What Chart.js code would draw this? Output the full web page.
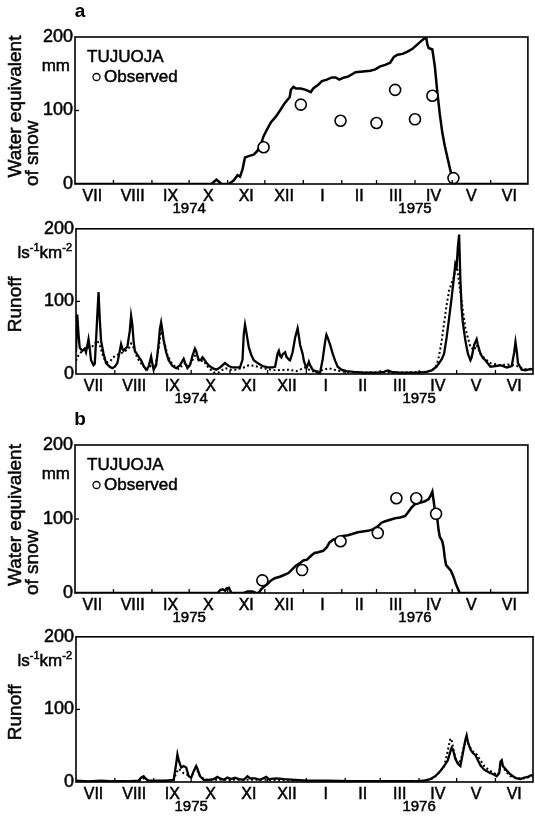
<!DOCTYPE html>
<html>
<head>
<meta charset="utf-8">
<script src="https://cdn.jsdelivr.net/npm/chart.js@4.4.1/dist/chart.umd.min.js"></script>
<style>
  html, body { margin: 0; padding: 0; background: #fff; }
  #wrap { position: relative; width: 535px; height: 818px; overflow: hidden; }
  #wrap canvas { position: absolute; left: 0; }
</style>
</head>
<body>
<div id="wrap">
  <canvas id="snowA" width="535" height="216" style="top:0px"></canvas>
  <canvas id="runoffA" width="535" height="194" style="top:216px"></canvas>
  <canvas id="snowB" width="535" height="214" style="top:410px"></canvas>
  <canvas id="runoffB" width="535" height="194" style="top:624px"></canvas>
</div>
<script>
// Sumbu waktu: hari sejak 1 Juli (tahun hidrologi Juli - Juni)
const monthLabels = ['VII', 'VIII', 'IX', 'X', 'XI', 'XII', 'I', 'II', 'III', 'IV', 'V', 'VI'];
const monthStartDays = [0, 31, 62, 92, 123, 153, 184, 215, 243, 274, 304, 335, 365];
const monthMidDays = [14, 46.5, 77, 107.5, 138, 168.5, 199.5, 229, 258.5, 289, 319.5, 350];
const yTickValues = [0, 100, 200];
const yearDays = [92, 274];
const yearLabelsA = ['1974', '1975'];
const yearLabelsB = ['1975', '1976'];

// a) 1974/75 - setara air salju (hitungan) dan pengamatan
const snowDaysA = [0, 110, 112, 114, 116, 118, 124, 128, 131, 133, 135, 137, 140, 144, 147, 150, 152, 155, 158, 162, 166, 169, 171, 173, 174, 176, 178, 182, 186, 190, 192, 196, 199, 203, 207, 210, 213, 217, 220, 224, 226, 232, 238, 242, 246, 250, 254, 257, 260, 264, 268, 272, 276, 280, 283, 284, 285, 288, 290, 292, 294, 296, 298, 300, 302, 304, 306, 365];
const snowA = [0, 0, 3, 6, 3, 0, 0, 5, 12, 10, 20, 36, 38, 40, 45, 55, 65, 75, 84, 92, 102, 110, 114, 118, 128, 132, 130, 130, 128, 125, 130, 135, 140, 142, 145, 145, 142, 145, 146, 150, 152, 153, 154, 156, 160, 162, 165, 173, 176, 177, 180, 184, 190, 196, 200, 190, 185, 183, 160, 125, 95, 70, 52, 37, 22, 8, 0, 0];
const obsDaysA = [152, 182, 214, 243, 258, 274, 288, 305];
const obsSnowA = [50, 108, 86, 83, 128, 88, 120, 8];

// a) limpasan terukur (garis) dan simulasi (titik-titik)
const runoffDaysA = [0, 1, 2, 3, 5, 7, 8, 10, 11, 12, 14, 15, 16, 17, 18, 19, 20, 22, 24, 27, 29, 31, 33, 35, 36, 37, 38, 40, 41, 43, 44, 45, 46, 47, 50, 52, 54, 56, 58, 60, 61, 62, 64, 66, 67, 68, 69, 70, 72, 74, 77, 80, 83, 86, 87, 89, 91, 93, 95, 96, 98, 100, 101, 102, 104, 106, 109, 112, 115, 119, 122, 125, 128, 131, 133, 134, 135, 136, 138, 140, 142, 145, 149, 153, 157, 159, 161, 162, 163, 164, 165, 167, 168, 170, 171, 173, 175, 177, 178, 179, 181, 182, 184, 185, 186, 187, 189, 191, 193, 195, 197, 199, 200, 201, 203, 205, 207, 209, 212, 216, 222, 230, 240, 246, 249, 252, 258, 266, 274, 280, 284, 288, 290, 292, 294, 296, 298, 300, 302, 303, 304, 305, 306, 307, 308, 309, 311, 313, 315, 316, 318, 320, 321, 323, 325, 327, 331, 335, 339, 344, 348, 350, 351, 352, 353, 356, 359, 363, 365];
const runoffA = [30, 82, 55, 36, 32, 35, 30, 48, 35, 19, 12, 14, 46, 80, 113, 75, 46, 28, 15, 10, 8, 10, 15, 32, 41, 35, 32, 36, 37, 60, 80, 68, 45, 32, 24, 19, 11, 6, 10, 24, 14, 6, 12, 42, 62, 71, 60, 46, 30, 19, 11, 8, 12, 21, 16, 8, 12, 25, 35, 31, 19, 20, 23, 21, 16, 12, 8, 6, 9, 15, 11, 9, 9, 9, 20, 55, 68, 58, 37, 26, 19, 15, 11, 9, 9, 10, 28, 32, 25, 23, 27, 30, 24, 20, 19, 30, 50, 63, 52, 40, 28, 18, 8, 12, 17, 12, 6, 4, 2, 2, 20, 45, 54, 50, 40, 28, 18, 10, 6, 4, 3, 2, 2, 3, 5, 3, 2, 2, 2, 3, 5, 10, 15, 20, 28, 50, 77, 105, 135, 152, 148, 175, 192, 130, 90, 70, 46, 28, 19, 23, 40, 48, 40, 28, 22, 19, 10, 11, 12, 9, 11, 30, 44, 32, 15, 6, 5, 7, 6];
const simDaysA = [0, 2, 5, 9, 13, 17, 19, 22, 25, 28, 31, 35, 39, 42, 44, 46, 49, 53, 57, 60, 63, 66, 68, 70, 73, 77, 82, 87, 90, 95, 99, 102, 106, 110, 114, 119, 124, 128, 134, 138, 143, 149, 159, 170, 176, 183, 187, 191, 198, 202, 208, 215, 230, 260, 280, 285, 288, 290, 292, 294, 296, 298, 300, 302, 304, 305, 306, 308, 311, 315, 318, 320, 323, 326, 331, 339, 345, 351, 357, 365];
const runoffSimA = [18, 26, 32, 36, 38, 46, 40, 22, 16, 19, 25, 28, 31, 35, 42, 36, 22, 12, 6, 12, 8, 35, 62, 48, 26, 13, 7, 15, 10, 25, 18, 18, 8, 2, 2, 8, 6, 6, 9, 12, 11, 8, 5, 6, 4, 9, 5, 3, 6, 8, 5, 3, 2, 2, 3, 6, 12, 25, 45, 70, 95, 115, 125, 135, 150, 140, 125, 100, 63, 37, 33, 40, 28, 22, 15, 12, 13, 12, 7, 6];

// b) 1975/76 - setara air salju dan pengamatan
const snowDaysB = [0, 115, 117, 119, 121, 122, 124, 126, 136, 139, 143, 146, 148, 150, 152, 155, 158, 161, 165, 168, 172, 175, 178, 181, 184, 187, 190, 193, 196, 200, 203, 205, 208, 212, 216, 220, 224, 228, 232, 236, 240, 244, 247, 250, 254, 258, 262, 266, 268, 271, 274, 278, 282, 285, 287, 288, 289, 290, 292, 293, 294, 296, 297, 298, 299, 301, 303, 305, 307, 309, 310, 365];
const snowB = [0, 0, 4, 5, 3, 6, 7, 0, 0, 2, 2, 0, 0, 5, 8, 12, 17, 20, 22, 24, 27, 32, 37, 40, 44, 45, 50, 54, 55, 57, 62, 68, 72, 74, 77, 78, 80, 82, 83, 84, 86, 90, 95, 97, 99, 101, 102, 104, 108, 115, 120, 122, 124, 127, 133, 137, 125, 112, 100, 85, 76, 70, 62, 48, 38, 34, 30, 22, 12, 4, 0, 0];
const obsDaysB = [151, 183, 214, 244, 259, 275, 291];
const obsSnowB = [17, 31, 70, 81, 128, 128, 107];

// b) limpasan terukur dan simulasi
const runoffDaysB = [0, 10, 20, 30, 40, 50, 52, 54, 56, 58, 65, 72, 78, 80, 81, 82, 84, 86, 88, 90, 92, 94, 96, 97, 99, 102, 106, 110, 113, 115, 118, 121, 124, 127, 130, 134, 137, 139, 143, 147, 152, 154, 160, 166, 175, 185, 200, 220, 250, 270, 278, 283, 287, 291, 294, 297, 299, 300, 301, 303, 305, 307, 309, 311, 312, 313, 315, 317, 319, 321, 323, 326, 330, 334, 336, 338, 339, 340, 341, 343, 346, 349, 352, 355, 358, 361, 363, 365];
const runoffB = [2, 1, 2, 1, 1, 2, 6, 8, 4, 2, 2, 2, 3, 25, 38, 30, 20, 22, 20, 8, 6, 15, 22, 18, 8, 3, 3, 4, 7, 5, 3, 6, 4, 6, 4, 3, 8, 5, 5, 3, 7, 4, 5, 4, 3, 2, 2, 1, 1, 1, 2, 4, 8, 15, 22, 30, 42, 47, 45, 32, 25, 22, 40, 58, 64, 55, 45, 40, 37, 30, 23, 17, 13, 10, 8, 12, 28, 30, 22, 18, 12, 8, 5, 4, 6, 7, 9, 9];
const simDaysB = [0, 50, 54, 58, 78, 80, 82, 84, 86, 89, 92, 95, 97, 100, 104, 120, 150, 200, 270, 280, 285, 290, 294, 296, 298, 299, 300, 302, 304, 306, 308, 310, 312, 314, 317, 320, 323, 326, 330, 334, 337, 339, 341, 343, 347, 352, 358, 365];
const runoffSimB = [1, 1, 5, 1, 2, 12, 18, 15, 12, 10, 6, 18, 15, 6, 3, 3, 3, 1, 1, 2, 5, 13, 22, 35, 52, 60, 58, 40, 28, 25, 35, 50, 58, 50, 42, 38, 30, 22, 16, 12, 10, 20, 22, 15, 8, 5, 5, 8];

const FONT = '"Liberation Sans", Arial, sans-serif';
const INK = 0.5; // tebal goresan teks, meniru cetakan hasil pindai

document.addEventListener('DOMContentLoaded', function () {
    if (typeof Chart === 'undefined') return;

    // Menggabungkan hari dan nilai menjadi titik {x, y}
    const pts = (days, vals) => days.map((d, i) => ({ x: d, y: vals[i] }));

    // Mengisi teks lalu menebalkan sedikit dengan goresan
    const inkText = (ctx, text, x, y) => {
        ctx.fillText(text, x, y);
        ctx.lineWidth = INK;
        ctx.strokeText(text, x, y);
    };

    // Menulis teks yang diputar 90 derajat (judul sumbu y)
    const rotText = (ctx, text, x, y, align) => {
        ctx.save();
        ctx.translate(x, y);
        ctx.rotate(-Math.PI / 2);
        ctx.textAlign = align;
        ctx.textBaseline = 'middle';
        inkText(ctx, text, 0, 0);
        ctx.restore();
    };

    const line = (ctx, x1, y1, x2, y2) => {
        ctx.beginPath();
        ctx.moveTo(x1, y1);
        ctx.lineTo(x2, y2);
        ctx.stroke();
    };

    // Plugin untuk bingkai, tanda bulan, label tahun dan teks panel
    const decor = {
        id: 'decor',
        afterDraw(chart, args, opts) {
            const { ctx, chartArea: a, scales: { x, y } } = chart;
            ctx.save();
            ctx.fillStyle = '#000';
            ctx.strokeStyle = '#000';
            ctx.lineWidth = 1.6;
            ctx.strokeRect(a.left, a.top, a.right - a.left, a.bottom - a.top);

            ctx.lineWidth = 1.3;
            monthStartDays.slice(1, -1).forEach(d => {
                const px = x.getPixelForValue(d);
                line(ctx, px, a.bottom, px, a.bottom - 4);
            });
            const p100 = y.getPixelForValue(100);
            ctx.lineWidth = 1.3;
            line(ctx, a.left, p100, a.left + 4, p100);

            ctx.font = `15px ${FONT}`;
            ctx.textAlign = 'center';
            ctx.textBaseline = 'middle';
            yearDays.forEach((d, i) => inkText(ctx, opts.years[i], x.getPixelForValue(d), a.bottom + 25));

            if (opts.letter) {
                ctx.font = `bold 19px ${FONT}`;
                ctx.textAlign = 'center';
                ctx.fillText(opts.letter, 80, a.top - 25);
            }

            ctx.font = `19px ${FONT}`;
            if (opts.kind === 'snow') {
                rotText(ctx, 'Water equivalent', 16, (a.top + a.bottom) / 2 - 4, 'center');
                rotText(ctx, 'of snow', 33, a.bottom + 2, 'left');

                ctx.font = `17px ${FONT}`;
                ctx.textAlign = 'right';
                ctx.textBaseline = 'alphabetic';
                inkText(ctx, 'mm', 70, a.top + 34);

                // Legenda di dalam plot
                ctx.textAlign = 'left';
                ctx.textBaseline = 'middle';
                inkText(ctx, 'TUJUOJA', 87, a.top + 20);
                ctx.lineWidth = 1.3;
                ctx.beginPath();
                ctx.arc(96.5, a.top + 40, 3.5, 0, Math.PI * 2);
                ctx.stroke();
                inkText(ctx, 'Observed', 104, a.top + 40);
            } else {
                rotText(ctx, 'Runoff', 16, p100 + 3, 'center');

                // Satuan l s-1 km-2 dengan pangkat kecil
                const parts = [['ls', false], ['-1', true], ['km', false], ['-2', true]];
                const big = `17px ${FONT}`, small = `11px ${FONT}`;
                let w = 0;
                parts.forEach(([t, sup]) => { ctx.font = sup ? small : big; w += ctx.measureText(t).width; });
                let cx = 72 - w;
                const base = a.top + 29;
                ctx.textAlign = 'left';
                ctx.textBaseline = 'alphabetic';
                parts.forEach(([t, sup]) => {
                    ctx.font = sup ? small : big;
                    inkText(ctx, t, cx, sup ? base - 7 : base);
                    cx += ctx.measureText(t).width;
                });
            }
            ctx.restore();
        }
    };

    // Membuat satu panel grafik dengan area plot yang tetap
    const buildChart = (id, cfg) => {
        const canvas = document.getElementById(id);
        const H = canvas.height;
        return new Chart(canvas.getContext('2d'), {
            type: 'line',
            data: { datasets: cfg.datasets },
            plugins: [decor],
            options: {
                responsive: false,
                animation: false,
                events: [],
                layout: { padding: { top: cfg.padTop, right: 2, left: 0, bottom: 0 } },
                plugins: {
                    legend: { display: false },
                    tooltip: { enabled: false },
                    decor: cfg.decor
                },
                scales: {
                    x: {
                        type: 'linear',
                        min: 0,
                        max: 365,
                        grid: { display: false, drawTicks: false },
                        border: { display: false },
                        afterBuildTicks: s => { s.ticks = monthMidDays.map(v => ({ value: v })); },
                        afterFit: s => { s.height = H - cfg.padTop - cfg.plotH; },
                        ticks: {
                            autoSkip: false,
                            maxRotation: 0,
                            padding: 3,
                            color: '#000',
                            textStrokeColor: '#000',
                            textStrokeWidth: INK,
                            font: { family: FONT, size: 16 },
                            callback: (v, i) => monthLabels[i]
                        }
                    },
                    y: {
                        type: 'linear',
                        min: 0,
                        max: 200,
                        grid: { display: false, drawTicks: false },
                        border: { display: false },
                        afterBuildTicks: s => { s.ticks = yTickValues.map(v => ({ value: v })); },
                        afterFit: s => { s.width = cfg.left; },
                        ticks: {
                            padding: 2,
                            color: '#000',
                            textStrokeColor: '#000',
                            textStrokeWidth: INK,
                            font: { family: FONT, size: 18 }
                        }
                    }
                }
            }
        });
    };

    const solid = (data, w) => ({ data, borderColor: '#000', borderWidth: w, pointRadius: 0, tension: 0, fill: false });
    const dotted = data => ({ data, borderColor: '#000', borderWidth: 2, borderDash: [2, 2.5], pointRadius: 0, tension: 0, fill: false });
    const circles = data => ({
        data, showLine: false, clip: false,
        pointRadius: 5.5, pointBorderWidth: 1.6,
        pointBackgroundColor: '#fff', pointBorderColor: '#000'
    });

    buildChart('snowA', {
        padTop: 37, plotH: 147, left: 75,
        decor: { kind: 'snow', letter: 'a', years: yearLabelsA },
        datasets: [circles(pts(obsDaysA, obsSnowA)), solid(pts(snowDaysA, snowA), 2.5)]
    });
    buildChart('runoffA', {
        padTop: 8, plotH: 150, left: 76,
        decor: { kind: 'runoff', years: yearLabelsA },
        datasets: [solid(pts(runoffDaysA, runoffA), 2.3), dotted(pts(simDaysA, runoffSimA))]
    });
    buildChart('snowB', {
        padTop: 35, plotH: 148, left: 75,
        decor: { kind: 'snow', letter: 'b', years: yearLabelsB },
        datasets: [circles(pts(obsDaysB, obsSnowB)), solid(pts(snowDaysB, snowB), 2.5)]
    });
    buildChart('runoffB', {
        padTop: 9, plotH: 149, left: 76,
        decor: { kind: 'runoff', years: yearLabelsB },
        datasets: [solid(pts(runoffDaysB, runoffB), 2.3), dotted(pts(simDaysB, runoffSimB))]
    });
});
</script>
</body>
</html>
